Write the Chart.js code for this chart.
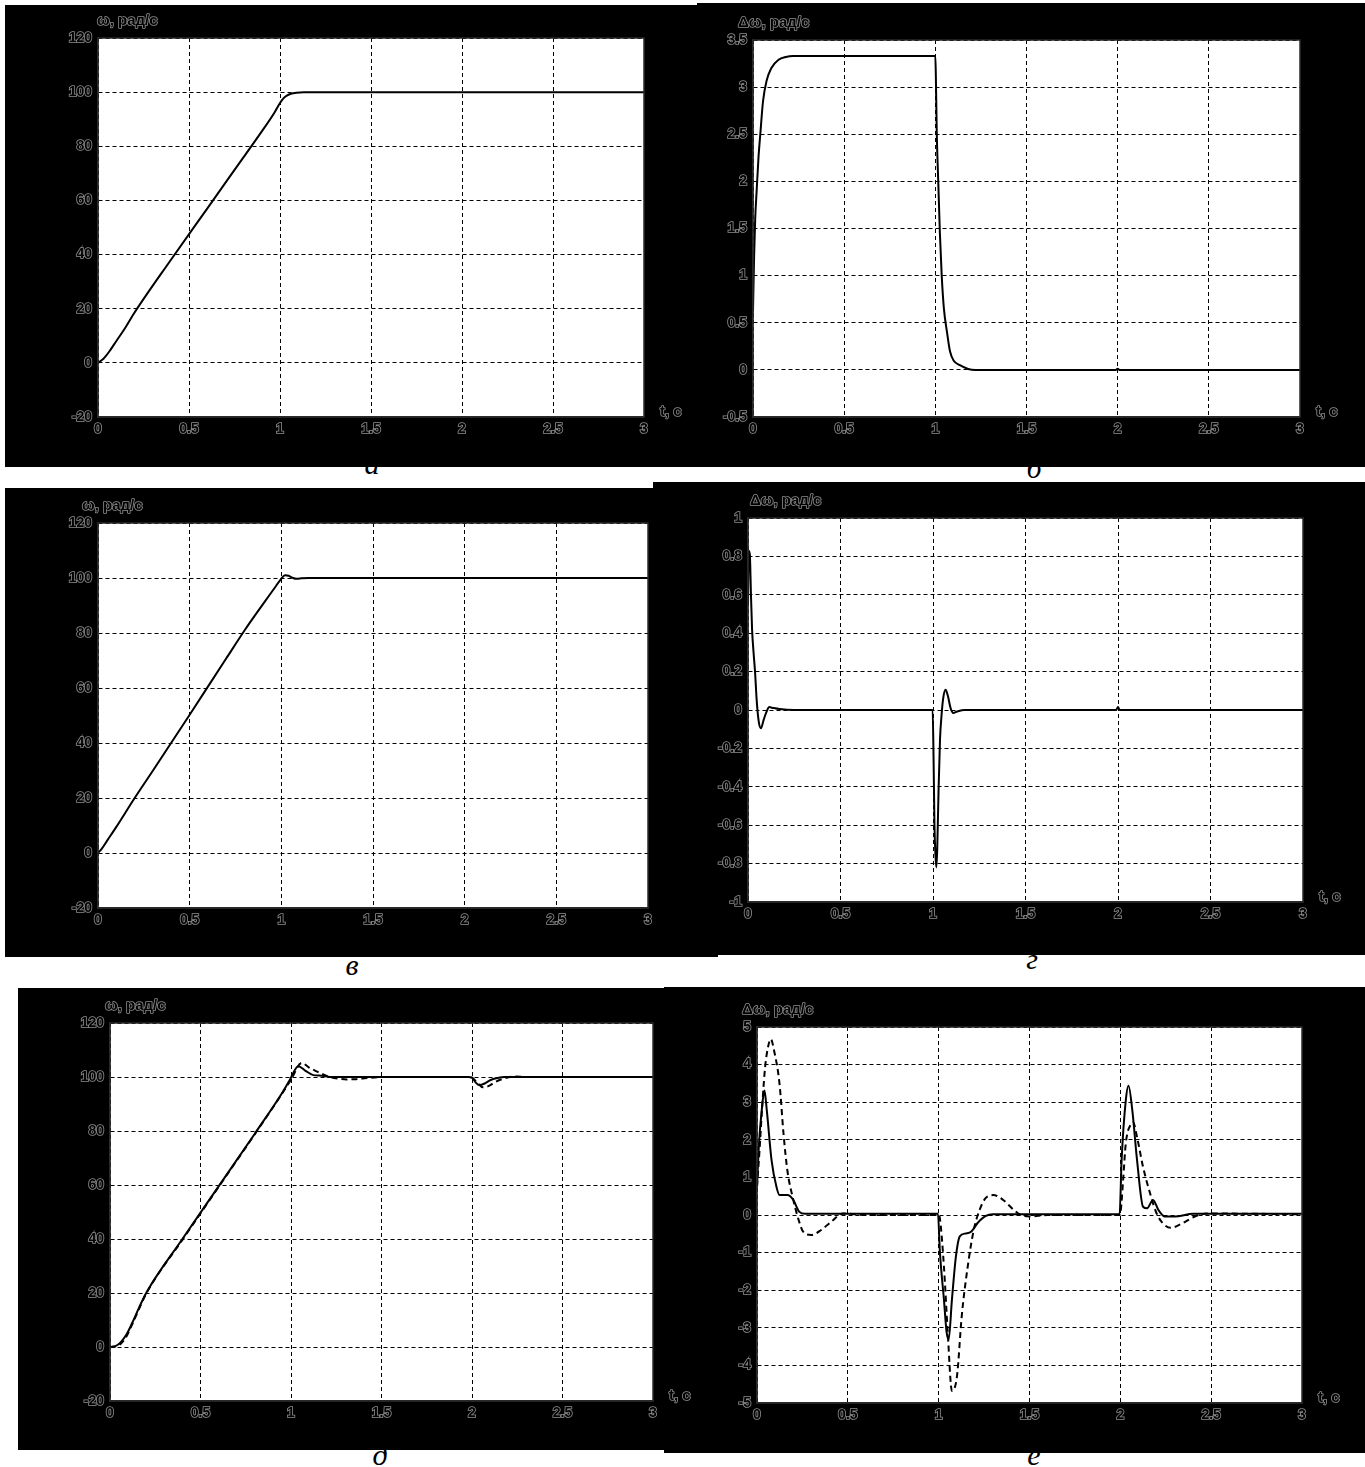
<!DOCTYPE html>
<html>
<head>
<meta charset="utf-8">
<script src="https://cdn.jsdelivr.net/npm/chart.js@4.4.1/dist/chart.umd.min.js"></script>
<style>
html, body { margin: 0; padding: 0; background: #fff; }
body { width: 1365px; height: 1467px; position: relative; overflow: hidden; }
canvas { position: absolute; }
.lbl { position: absolute; width: 40px; text-align: center; font-family: "Liberation Serif", "DejaVu Serif", serif; font-style: italic; font-size: 30px; line-height: 30px; color: #000; }
</style>
</head>
<body>
<div class="lbl" style="left:352px;top:449px">а</div>
<div class="lbl" style="left:1014px;top:453px">б</div>
<div class="lbl" style="left:332px;top:950px">в</div>
<div class="lbl" style="left:1012px;top:944px">г</div>
<div class="lbl" style="left:360px;top:1440px">д</div>
<div class="lbl" style="left:1014px;top:1440px">е</div>

<canvas id="cA"></canvas>
<canvas id="cB"></canvas>
<canvas id="cC"></canvas>
<canvas id="cD"></canvas>
<canvas id="cF"></canvas>
<canvas id="cE"></canvas>

<script>
// --- data (t in s) ---

// а: speed, ω
const tA = [0, 0.03, 0.06, 0.1, 0.15, 0.2, 0.4, 0.6, 0.8, 0.9, 0.97, 1.0, 1.02, 1.04, 1.06, 1.09, 1.13, 1.2, 2, 3];
const wA = [0, 1.5, 4, 8, 13, 18.5, 38, 57, 76, 85.5, 92.5, 96, 97.8, 98.8, 99.4, 99.8, 100, 100, 100, 100];

// б: speed error, Δω
const tB = [0, 0.006, 0.012, 0.02, 0.03, 0.04, 0.055, 0.075, 0.1, 0.14, 0.18, 0.22, 0.5, 1.0, 1.003, 1.008, 1.016, 1.025, 1.035, 1.047, 1.064, 1.08, 1.1, 1.135, 1.18, 1.22, 1.5, 1.99, 2.0, 2.01, 2.02, 3];
const dB = [0.62, 1.2, 1.6, 1.9, 2.25, 2.5, 2.85, 3.07, 3.2, 3.29, 3.32, 3.33, 3.33, 3.33, 3.1, 2.5, 2.0, 1.45, 1.0, 0.65, 0.4, 0.2, 0.1, 0.05, 0.01, 0, 0, 0, 0.012, 0, 0, 0];

// в: speed, ω
const tC = [0, 0.02, 0.05, 0.1, 0.2, 0.3, 0.5, 0.7, 0.8, 0.9, 0.97, 1.0, 1.02, 1.04, 1.06, 1.085, 1.11, 1.15, 2, 3];
const wC = [0, 1.5, 4.5, 9.5, 20, 30, 50.3, 70.8, 81, 90.5, 97, 99.8, 101, 100.8, 100.1, 99.7, 99.9, 100, 100, 100];

// г: speed error, Δω
const tD = [0, 0.004, 0.01, 0.016, 0.022, 0.03, 0.038, 0.047, 0.058, 0.07, 0.085, 0.1, 0.115, 0.13, 0.17, 0.25, 0.998, 1.003, 1.008, 1.013, 1.018, 1.023, 1.03, 1.038, 1.046, 1.055, 1.068, 1.08, 1.095, 1.11, 1.13, 1.17, 1.99, 2.0, 2.01, 2.02, 3];
const dD = [0.55, 0.83, 0.81, 0.6, 0.42, 0.3, 0.2, 0.05, -0.06, -0.095, -0.05, -0.01, 0.015, 0.012, 0.005, 0, 0, -0.25, -0.6, -0.75, -0.82, -0.72, -0.42, -0.15, -0.03, 0.06, 0.105, 0.075, 0.01, -0.015, -0.008, 0, 0, 0.015, 0, 0, 0];

// д: speed, ω (solid and dashed)
const tE1 = [0, 0.03, 0.06, 0.09, 0.12, 0.16, 0.2, 0.4, 0.6, 0.8, 0.95, 0.994, 1.04, 1.08, 1.123, 1.17, 1.215, 1.5, 1.98, 2.0, 2.02, 2.04, 2.07, 2.1, 2.14, 2.18, 2.25, 3];
const wE1 = [0, 0.3, 1.8, 4.5, 8.5, 14.5, 20, 40, 59.5, 79, 94, 99, 104, 102.3, 100.7, 100.5, 100, 100, 100, 99.8, 98, 97, 97.6, 98.8, 99.6, 100, 100, 100];
const tE2 = [0, 0.03, 0.06, 0.09, 0.12, 0.16, 0.2, 0.4, 0.6, 0.8, 0.95, 1.0, 1.059, 1.1, 1.15, 1.188, 1.215, 1.26, 1.308, 1.36, 1.418, 1.5, 1.98, 2.0, 2.03, 2.06, 2.09, 2.13, 2.18, 2.24, 2.3, 3];
const wE2 = [0, 0.2, 1.2, 3.8, 8, 14, 19.8, 39.7, 59.3, 78.8, 93.8, 99, 105.2, 103.5, 101.8, 100.7, 100, 99.4, 99.1, 99.2, 99.6, 100, 100, 99.8, 97.8, 96.2, 96.6, 98.2, 99.5, 100.2, 100, 100];

// е: speed error, Δω (solid and dashed)
const tF1 = [0, 0.011, 0.026, 0.041, 0.054, 0.08, 0.107, 0.124, 0.145, 0.167, 0.2, 0.232, 0.266, 0.5, 0.996, 1.007, 1.029, 1.044, 1.055, 1.073, 1.095, 1.116, 1.149, 1.18, 1.213, 1.257, 1.3, 1.996, 2.007, 2.03, 2.045, 2.066, 2.092, 2.125, 2.147, 2.18, 2.21, 2.245, 2.3, 2.4, 3];
const dF1 = [0.75, 1.9, 2.78, 3.31, 2.78, 1.46, 0.75, 0.53, 0.53, 0.53, 0.4, 0.09, 0.03, 0.03, 0.03, -1.0, -2.25, -3.13, -3.31, -2.25, -1.1, -0.57, -0.49, -0.44, -0.22, -0.03, 0.02, 0.02, 1.46, 3.05, 3.44, 2.78, 1.46, 0.22, 0.18, 0.4, 0.13, -0.04, -0.04, 0.03, 0.03];
const tF2 = [0, 0.015, 0.03, 0.045, 0.06, 0.076, 0.095, 0.124, 0.146, 0.167, 0.2, 0.229, 0.255, 0.299, 0.353, 0.408, 0.473, 0.6, 1.0, 1.007, 1.029, 1.05, 1.073, 1.101, 1.127, 1.16, 1.193, 1.225, 1.257, 1.3, 1.355, 1.41, 1.454, 1.5, 1.6, 1.995, 2.002, 2.015, 2.03, 2.06, 2.07, 2.092, 2.125, 2.169, 2.2, 2.234, 2.277, 2.342, 2.41, 2.475, 3];
const dF2 = [0.75, 1.8, 3.0, 3.95, 4.45, 4.68, 4.35, 3.49, 2.16, 1.19, 0.4, -0.13, -0.45, -0.53, -0.4, -0.18, 0.04, 0.0, 0.0, -0.1, -1.37, -3.13, -4.68, -4.28, -2.69, -1.37, -0.4, 0.13, 0.44, 0.53, 0.4, 0.15, 0.0, -0.04, 0.0, 0.0, 0.1, 0.9, 1.9, 2.43, 2.47, 2.07, 1.28, 0.49, 0.04, -0.22, -0.34, -0.22, -0.04, 0.04, 0.02];

const W_LABEL = 'ω, рад/с';
const DW_LABEL = 'Δω, рад/с';
const T_LABEL = 't, с';

// --- layout of the six panels (black box and plot area, in page px) ---
const panels = [
	{ id: 'cA', box: [5, 5, 692, 462], plot: [98, 38, 644, 417], labelX: 97,
	  y: [-20, 120, 20], ylabel: W_LABEL, tLabel: true, series: [[tA, wA, false]] },
	{ id: 'cB', box: [697, 3, 668, 464], plot: [753, 40, 1300, 417], labelX: 738,
	  y: [-0.5, 3.5, 0.5], ylabel: DW_LABEL, tLabel: true, series: [[tB, dB, false]] },
	{ id: 'cC', box: [5, 488, 713, 469], plot: [98, 523, 648, 908], labelX: 82,
	  y: [-20, 120, 20], ylabel: W_LABEL, tLabel: false, series: [[tC, wC, false]] },
	{ id: 'cD', box: [653, 482, 712, 473], plot: [748, 518, 1303, 902], labelX: 750,
	  y: [-1, 1, 0.2], ylabel: DW_LABEL, tLabel: true, series: [[tD, dD, false]] },
	{ id: 'cF', box: [664, 987, 701, 466], plot: [757, 1027, 1302, 1403], labelX: 742,
	  y: [-5, 5, 1], ylabel: DW_LABEL, tLabel: true, series: [[tF1, dF1, false], [tF2, dF2, true]] },
	{ id: 'cE', box: [18, 988, 682, 462], plot: [110, 1023, 653, 1401], labelX: 105,
	  y: [-20, 120, 20], ylabel: W_LABEL, tLabel: true, series: [[tE1, wE1, false], [tE2, wE2, true]] }
];

const FAMILY = '"Liberation Sans", Arial, sans-serif';
const OUTLINE = '#8e8e8e';

// outlined text like the old matlab screenshot
function outlineText(ctx, text, x, y) {
	ctx.font = 'bold 15px ' + FAMILY;
	ctx.lineJoin = 'round';
	ctx.lineWidth = 1.6;
	ctx.strokeStyle = OUTLINE;
	ctx.strokeText(text, x, y);
	ctx.fillStyle = '#000';
	ctx.fillText(text, x, y);
}

const panelDecor = {
	id: 'panelDecor',
	beforeDraw(chart) {
		const ctx = chart.ctx, a = chart.chartArea;
		ctx.save();
		ctx.fillStyle = '#000';
		ctx.fillRect(0, 0, chart.width, chart.height);
		ctx.fillStyle = '#fff';
		ctx.fillRect(a.left, a.top, a.right - a.left, a.bottom - a.top);
		ctx.restore();
	},
	afterDatasetsDraw(chart) {
		const ctx = chart.ctx, a = chart.chartArea;
		ctx.save();
		ctx.strokeStyle = '#2a2a2a';
		ctx.lineWidth = 1.5;
		ctx.setLineDash([]);
		ctx.strokeRect(a.left, a.top, a.right - a.left, a.bottom - a.top);
		ctx.restore();
	},
	afterDraw(chart, args, opts) {
		const ctx = chart.ctx, a = chart.chartArea;
		ctx.save();
		ctx.textBaseline = 'middle';
		ctx.textAlign = 'left';
		outlineText(ctx, opts.ylabel, opts.labelX, a.top - 17);
		if (opts.tLabel) {
			outlineText(ctx, T_LABEL, a.right + 16, a.bottom - 5);
		}
		ctx.restore();
	}
};
Chart.register(panelDecor);

const Y_W = 44, X_H = 26;
const fmt = (v) => String(Math.round(v * 100) / 100);

function tickOpts(step) {
	return {
		stepSize: step,
		color: '#000',
		textStrokeColor: OUTLINE,
		textStrokeWidth: 1.6,
		font: { family: FAMILY, size: 14, weight: 'bold' },
		maxRotation: 0,
		autoSkip: false,
		callback: fmt
	};
}
const gridOpts = { color: '#000', lineWidth: 1, drawTicks: false };
const borderOpts = { display: true, color: '#2a2a2a', width: 1.5, dash: [4, 3] };

function makeChart(p) {
	const cv = document.getElementById(p.id);
	const [bx, by, bw, bh] = p.box;
	const [pl, pt, pr, pb] = p.plot;
	cv.width = bw;
	cv.height = bh;
	cv.style.left = bx + 'px';
	cv.style.top = by + 'px';

	const datasets = p.series.map(([ts, vs, dashed]) => ({
		data: ts.map((t, i) => ({ x: t, y: vs[i] })),
		borderColor: '#000',
		borderWidth: 2,
		borderDash: dashed ? [6, 4] : [],
		pointRadius: 0,
		cubicInterpolationMode: 'monotone',
		fill: false
	}));

	const xTicks = tickOpts(0.5);
	xTicks.padding = 4;
	const yTicks = tickOpts(p.y[2]);
	yTicks.padding = 6;

	return new Chart(cv, {
		type: 'line',
		data: { datasets: datasets },
		options: {
			responsive: false,
			animation: false,
			events: [],
			layout: {
				padding: {
					left: pl - bx - Y_W,
					top: pt - by,
					right: bx + bw - pr,
					bottom: by + bh - pb - X_H
				}
			},
			plugins: {
				legend: { display: false },
				tooltip: { enabled: false },
				panelDecor: { ylabel: p.ylabel, tLabel: p.tLabel, labelX: p.labelX - bx }
			},
			scales: {
				x: {
					type: 'linear', min: 0, max: 3,
					afterFit: (s) => { s.height = X_H; },
					ticks: xTicks, grid: gridOpts, border: borderOpts
				},
				y: {
					type: 'linear', min: p.y[0], max: p.y[1],
					afterFit: (s) => { s.width = Y_W; },
					ticks: yTicks, grid: gridOpts, border: borderOpts
				}
			}
		}
	});
}

panels.forEach(makeChart);
</script>
</body>
</html>
